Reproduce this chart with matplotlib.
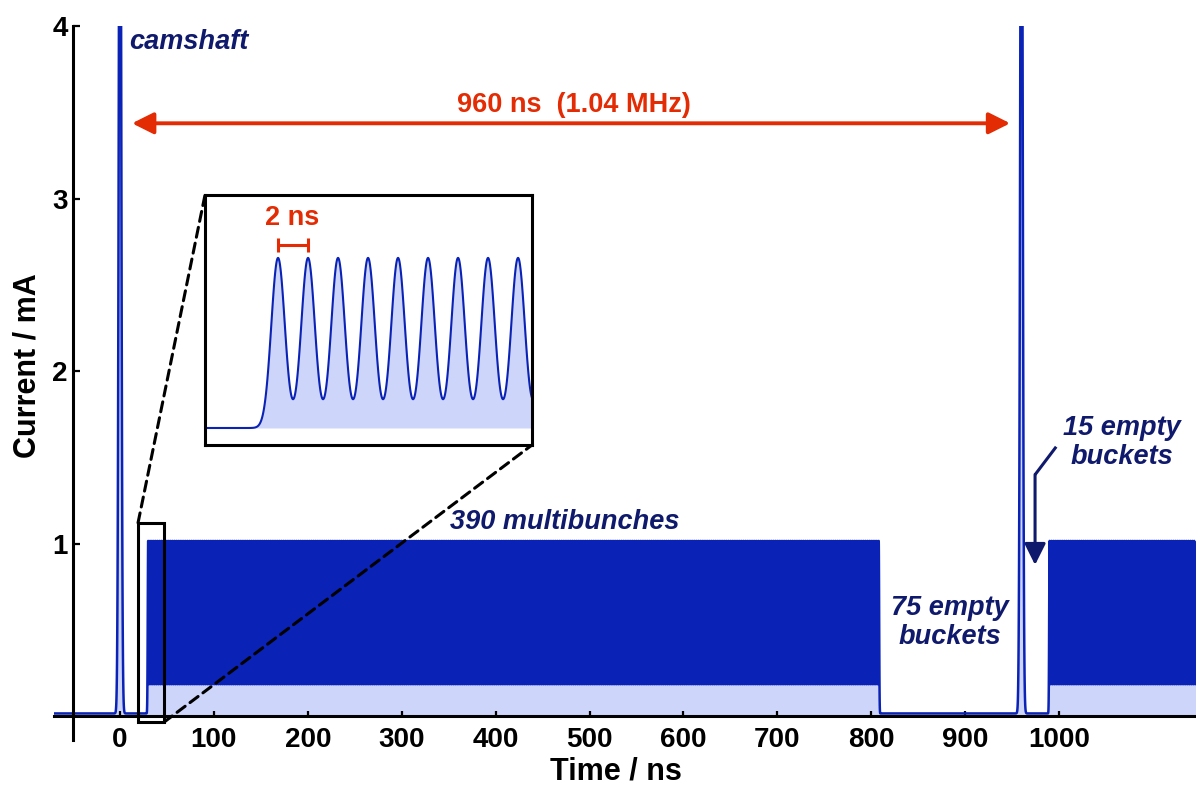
import numpy as np
import matplotlib
matplotlib.use("Agg")
import matplotlib.pyplot as plt
from matplotlib.patches import Rectangle, ConnectionPatch

plt.rcParams['font.family'] = ['Liberation Sans', 'DejaVu Sans']
plt.rcParams['font.weight'] = 'bold'
plt.rcParams['path.simplify'] = False

# ---------------- data ----------------
bucket_ns = 2.0
camshaft_times = [0.0, 960.0]
camshaft_amp = 6.0
camshaft_sigma = 1.3
train_starts = [30.0, 990.0]
train_counts = [390, 105]
bunch_amp = 1.0
bunch_sigma = 0.45
baseline = 0.015

x_ticks = [0, 100, 200, 300, 400, 500, 600, 700, 800, 900, 1000]
y_ticks = [1, 2, 3, 4]

# colours
BLUE = '#0a22b6'
LIGHT = '#cdd5fa'
NAVY = '#101a6c'
RED = '#e32b04'

ANN = 19.5   # annotation font size
LAB = 22     # axis-label font size
TCK = 20     # tick-label font size


def waveform(t):
    y = np.full_like(t, baseline)
    for tc in camshaft_times:
        y += camshaft_amp * np.exp(-(t - tc) ** 2 / (2 * camshaft_sigma ** 2))
    for start, n in zip(train_starts, train_counts):
        u = np.floor((t - start) / bucket_ns)
        for off in range(-4, 5):
            k = u + off
            ok = (k >= 0) & (k <= n - 1)
            tk = start + k * bucket_ns
            y += np.where(ok, bunch_amp * np.exp(-(t - tk) ** 2 / (2 * bunch_sigma ** 2)), 0.0)
    return y


t = np.arange(-80.0, 1200.0, 0.04)
sig = waveform(t)

fig = plt.figure(figsize=(11.96, 7.85), dpi=100)
ax = fig.add_axes([54 / 1196, 1 - 740 / 785, 1142 / 1196, 714 / 785])
ax.set_xlim(-70.3, 1145.9)
ax.set_ylim(-0.139, 4.0)

ax.fill_between(t, 0, sig, color=LIGHT, lw=0, zorder=1)
ax.plot(t, sig, color=BLUE, lw=1.8, zorder=2)

for s in ['top', 'right']:
    ax.spines[s].set_visible(False)
ax.spines['left'].set_position(('data', -50))
ax.spines['bottom'].set_position(('data', 0))
for s in ['left', 'bottom']:
    ax.spines[s].set_linewidth(2.2)
    ax.spines[s].set_zorder(3)

ax.set_xticks(x_ticks)
ax.set_yticks(y_ticks)
ax.tick_params(axis='x', direction='in', length=3.6, width=1.6, pad=8, labelsize=TCK)
ax.tick_params(axis='y', direction='in', length=5, width=1.6, pad=4, labelsize=TCK)

fig.text(616 / 1196, 1 - 772 / 785, 'Time / ns', ha='center', va='center', fontsize=LAB, fontweight='bold')
fig.text(28 / 1196, 1 - 366 / 785, 'Current / mA', ha='center', va='center', rotation=90,
         fontsize=LAB, fontweight='bold')

# annotations
ax.text(9.6, 3.907, 'camshaft', color=NAVY, fontsize=ANN, fontstyle='italic', fontweight='bold',
        ha='left', va='center')
ax.annotate('', xy=(12.8, 3.436), xytext=(948, 3.436),
            arrowprops=dict(arrowstyle='<|-|>,head_length=1.3,head_width=0.65', mutation_scale=10,
                            lw=2.8, color=RED, shrinkA=0, shrinkB=0))
ax.text(483.5, 3.542, '960 ns  (1.04 MHz)', color=RED, fontsize=ANN, fontweight='bold',
        ha='center', va='center')
ax.text(474, 1.125, '390 multibunches', color=NAVY, fontsize=ANN, fontstyle='italic', fontweight='bold',
        ha='center', va='center')
ax.text(884, 0.545, '75 empty\nbuckets', color=NAVY, fontsize=ANN, fontstyle='italic', fontweight='bold',
        ha='center', va='center', linespacing=1.15)
ax.text(1067, 1.588, '15 empty\nbuckets', color=NAVY, fontsize=ANN, fontstyle='italic', fontweight='bold',
        ha='center', va='center', linespacing=1.15)
ax.plot([997, 974.5], [1.561, 1.399], color=NAVY, lw=2.2, solid_capstyle='butt', zorder=4)
ax.annotate('', xy=(974.5, 0.876), xytext=(974.5, 1.40),
            arrowprops=dict(arrowstyle='-|>,head_length=1.3,head_width=0.65', mutation_scale=10,
                            lw=2.2, color=NAVY, shrinkA=0, shrinkB=0), zorder=4)

# zoom rectangle
rect = Rectangle((19.2, -0.035), 47 - 19.2, 1.12 + 0.035, fill=False, ec='black', lw=2.2, zorder=5)
ax.add_patch(rect)

# inset
axin = fig.add_axes([205 / 1196, 1 - 445 / 785, 327 / 1196, 250 / 785])
ti = np.arange(24.0, 48.0, 0.01)
si = waveform(ti) - baseline
axin.fill_between(ti, 0, si, color=LIGHT, lw=0, zorder=1)
axin.plot(ti, si, color=BLUE, lw=1.5, zorder=2)
axin.set_xlim(25.13, 46.93)
axin.set_ylim(-0.1, 1.37)
axin.set_xticks([])
axin.set_yticks([])
for s in axin.spines.values():
    s.set_linewidth(2.2)
axin.plot([30, 32], [1.076, 1.076], color=RED, lw=2.2, solid_capstyle='butt')
axin.plot([30, 30], [1.035, 1.117], color=RED, lw=2.2, solid_capstyle='butt')
axin.plot([32, 32], [1.035, 1.117], color=RED, lw=2.2, solid_capstyle='butt')
axin.text(30.93, 1.235, '2 ns', color=RED, fontsize=ANN, fontweight='bold', ha='center', va='center')

for pa, pb in [((19.2, 1.12), (0, 1)), ((47, -0.035), (1, 0))]:
    cp = ConnectionPatch(xyA=pa, coordsA='data', axesA=ax, xyB=pb, coordsB='axes fraction', axesB=axin,
                         color='black', lw=2.2, linestyle=(0, (3.3, 2.0)), zorder=6)
    fig.add_artist(cp)

fig.savefig('out.png', dpi=100)
